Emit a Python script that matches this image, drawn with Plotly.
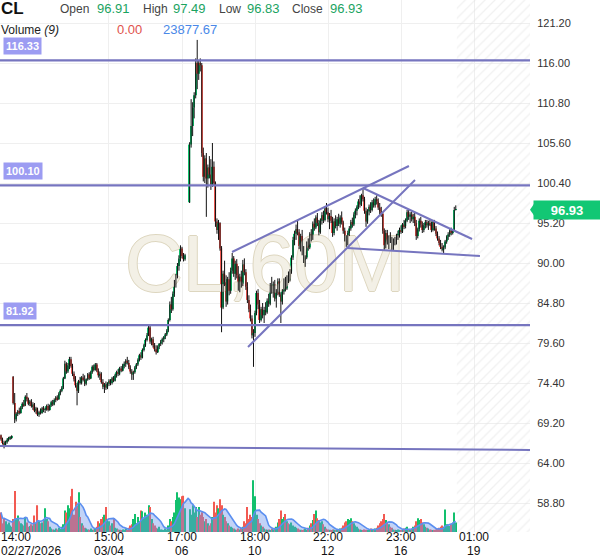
import plotly.graph_objects as go
import pandas as pd

# ---------------- data (60-minute bars, CL) ----------------
open_ = [
67.6, 67.1, 66.6, 66.3, 66.7, 67.0, 67.2, 67.3, 75.2, 71.8,
69.7, 70.4, 70.7, 70.5, 71.2, 71.7, 71.5, 72.6, 72.3, 71.7,
72.0, 71.4, 71.6, 70.8, 71.1, 70.3, 70.6, 70.5, 71.1, 70.9,
71.0, 71.4, 70.9, 71.5, 71.9, 71.6, 72.2, 72.5, 72.3, 73.0,
73.4, 73.8, 75.0, 76.9, 75.9, 76.7, 77.5, 76.6, 75.6, 74.9,
74.1, 73.4, 74.6, 74.4, 75.1, 74.8, 74.3, 74.9, 75.5, 75.0,
75.8, 76.5, 76.1, 76.8, 76.0, 75.4, 75.6, 74.5, 73.9, 74.2,
73.8, 74.3, 74.7, 74.4, 75.0, 74.7, 75.4, 75.8, 75.6, 76.3,
76.0, 76.7, 76.9, 77.3, 77.0, 76.4, 75.9, 75.5, 75.8, 76.4,
76.8, 77.4, 78.0, 77.7, 78.7, 79.3, 80.0, 80.6, 81.6, 79.8,
80.1, 79.3, 78.8, 78.4, 79.1, 79.5, 79.8, 80.1, 80.4, 80.7,
81.2, 82.6, 84.6, 84.0, 86.0, 87.4, 88.2, 89.6, 90.6, 91.9,
90.9, 90.5, None, None, 97.9, 105.4, 107.8, 110.2, 111.8, 116.0,
114.6, 116.0, 115.7, 104.3, 101.2, 103.6, 101.0, 102.4, 101.5, 100.2,
102.5, 100.4, 95.4, 94.3, 95.2, 91.9, 84.2, 88.6, 87.5, 85.0,
87.9, 86.4, 89.0, 90.6, 88.6, 89.9, 88.4, 86.9, 88.2, 87.3,
89.8, 88.8, 86.9, 85.2, 84.0, 82.8, 80.6, 80.9, 83.5, 86.1,
84.6, 82.6, 84.0, 83.2, 83.9, 83.6, 85.1, 84.7, 87.0, 86.4,
87.2, 85.4, 86.2, 87.6, 85.9, 85.0, 86.3, 87.7, 86.7, 88.1,
87.8, 88.9, 90.7, 93.0, 93.8, 94.4, 94.0, 92.2, 93.5, 91.4,
90.4, 90.7, 92.5, 92.0, 93.7, 93.2, 95.1, 94.6, 95.9, 95.2,
94.0, 95.5, 96.2, 95.6, 97.1, 96.6, 95.7, 96.1, 95.5, 93.9,
95.4, 94.8, 95.7, 95.1, 95.9, 95.3, 94.2, 93.2, 92.6, 93.9,
94.5, 95.3, 95.0, 96.3, 96.8, 97.3, 98.0, 97.6, 98.8, 98.3,
96.8, 95.4, 96.7, 97.3, 96.9, 97.9, 97.5, 98.3, 98.0, 97.2,
96.7, 96.4, 94.2, 92.3, 93.9, 92.8, 93.3, 93.0, 92.0, 92.9,
92.6, 93.5, 93.8, 94.3, 94.1, 95.0, 94.8, 95.5, 96.6, 96.0,
96.3, 95.7, 96.0, 95.2, 93.5, 94.4, 95.5, 95.0, 94.3, 94.9,
95.3, 94.9, 95.2, 95.0, 94.3, 95.4, 94.5, 93.8, 93.2, 92.6,
92.1, 91.8, 92.0, 92.8, 93.4, 93.7, 94.2, 93.9, 94.3, 96.91,
]
high = [
67.7, 67.3, 66.9, 66.9, 67.2, 67.4, 67.5, 67.6, 75.3, 73.1,
70.6, 70.9, 71.2, 71.4, 71.9, 72.2, 72.8, 73.1, 72.5, 72.2,
72.3, 71.9, 71.8, 71.3, 71.2, 70.8, 71.1, 71.3, 71.4, 71.2,
71.6, 71.7, 71.6, 72.1, 72.2, 72.4, 72.7, 72.8, 73.2, 73.6,
74.0, 75.2, 77.3, 77.1, 77.0, 77.8, 77.8, 76.9, 75.9, 75.3,
74.4, 74.8, 75.2, 75.3, 75.6, 75.4, 75.0, 75.7, 75.8, 76.0,
76.7, 76.8, 77.0, 77.0, 76.3, 75.9, 75.8, 74.9, 74.4, 74.6,
74.5, 74.9, 74.9, 75.2, 75.3, 75.6, 76.0, 76.2, 76.5, 76.6,
76.9, 77.2, 77.5, 77.8, 77.4, 76.7, 76.2, 76.0, 76.6, 77.0,
77.6, 78.2, 78.4, 78.9, 79.5, 80.2, 80.9, 81.9, 81.9, 80.3,
80.4, 79.6, 79.3, 79.3, 79.6, 80.0, 80.3, 80.5, 80.9, 81.4,
82.8, 85.0, 85.6, 86.3, 87.8, 88.6, 90.0, 91.0, 92.3, 92.1,
91.3, 91.2, None, None, 105.7, 111.3, 110.9, 112.2, 116.6, 119.0,
116.3, 116.6, 116.0, 105.0, 104.0, 104.3, 102.8, 103.9, 103.5, 105.6,
103.2, 100.6, 95.8, 95.6, 95.3, 92.2, 89.0, 90.3, 88.4, 88.2,
88.8, 89.4, 91.3, 90.9, 90.3, 90.5, 89.6, 88.6, 89.0, 90.4,
90.6, 89.2, 87.5, 85.8, 84.6, 83.2, 81.4, 83.8, 86.4, 86.6,
85.2, 84.3, 84.8, 84.3, 84.9, 85.4, 86.0, 87.4, 88.2, 87.6,
87.8, 86.6, 88.0, 88.0, 86.2, 86.6, 88.0, 88.2, 88.4, 88.9,
89.2, 91.0, 93.4, 94.2, 95.0, 95.6, 94.4, 93.8, 94.3, 92.2,
91.0, 92.8, 93.2, 94.0, 94.4, 95.4, 95.8, 96.2, 96.5, 95.6,
95.8, 96.6, 96.8, 97.4, 97.8, 97.2, 96.5, 96.9, 96.0, 95.8,
96.2, 96.0, 96.4, 96.2, 96.7, 95.5, 94.6, 93.6, 94.2, 94.8,
95.6, 95.9, 96.6, 97.1, 97.5, 98.3, 98.8, 99.0, 99.6, 98.6,
97.2, 97.0, 97.6, 97.9, 98.2, 98.4, 98.6, 98.8, 98.4, 97.8,
97.3, 96.6, 94.5, 94.3, 94.3, 93.6, 94.0, 93.4, 93.2, 93.4,
93.8, 94.2, 94.6, 94.9, 95.2, 95.6, 95.8, 96.9, 96.9, 96.6,
96.7, 96.4, 96.5, 95.6, 94.6, 95.8, 96.0, 95.4, 95.2, 95.6,
95.6, 95.5, 95.6, 95.4, 95.6, 95.6, 94.8, 94.1, 93.5, 93.0,
92.6, 92.3, 93.0, 93.6, 94.0, 94.4, 94.6, 94.4, 97.3, 97.49,
]
low = [
66.9, 66.4, 65.9, 66.1, 66.5, 66.8, 67.0, 67.1, 71.6, 69.2,
69.4, 70.1, 70.3, 70.4, 71.0, 71.3, 71.4, 72.0, 71.5, 71.4,
71.2, 70.9, 70.6, 70.4, 70.1, 70.0, 70.3, 70.4, 70.6, 70.5,
70.8, 70.7, 70.8, 71.3, 71.4, 71.5, 71.9, 72.1, 72.2, 72.8,
73.2, 73.6, 74.9, 75.6, 75.7, 76.2, 76.4, 75.3, 74.6, 73.8,
71.5, 73.1, 74.2, 74.2, 74.6, 74.0, 74.1, 74.7, 74.8, 74.9,
75.6, 75.9, 76.0, 75.8, 75.1, 74.8, 74.3, 73.6, 73.1, 73.5,
73.6, 74.0, 74.1, 74.2, 74.5, 74.6, 75.1, 75.3, 75.4, 75.8,
75.9, 76.3, 76.5, 76.8, 76.2, 75.6, 74.8, 74.8, 75.6, 76.2,
76.6, 77.2, 77.4, 77.6, 78.5, 79.1, 79.8, 80.5, 79.5, 79.3,
79.0, 78.5, 78.1, 78.3, 78.8, 79.2, 79.4, 79.7, 80.1, 80.5,
81.0, 82.4, 83.5, 83.8, 85.6, 86.8, 88.0, 89.0, 90.2, 90.6,
90.2, 90.3, None, None, 97.8, 105.0, 106.5, 108.8, 111.4, 112.6,
113.8, 114.9, 103.8, 100.6, 100.4, 96.0, 99.8, 101.0, 99.5, 99.9,
100.0, 94.7, 93.8, 93.0, 91.6, 81.0, 84.0, 87.0, 84.3, 84.6,
85.8, 86.0, 88.6, 88.2, 87.8, 88.0, 86.4, 86.2, 86.8, 87.0,
88.4, 86.5, 84.8, 83.6, 82.4, 80.2, 76.5, 80.4, 83.2, 84.0,
82.2, 82.4, 82.8, 82.2, 83.2, 83.4, 84.3, 84.5, 86.0, 85.5,
85.0, 84.2, 85.8, 85.6, 82.2, 84.6, 85.9, 86.3, 86.5, 87.4,
87.6, 88.6, 90.4, 92.3, 93.0, 93.6, 91.8, 91.5, 91.0, 90.0,
89.5, 90.5, 91.6, 91.8, 92.8, 93.0, 94.2, 94.4, 94.8, 93.6,
93.8, 95.0, 95.2, 95.4, 96.3, 95.3, 94.4, 95.2, 93.4, 93.6,
94.5, 94.2, 94.8, 94.6, 95.0, 93.8, 92.8, 92.1, 92.3, 93.5,
94.2, 94.6, 94.8, 95.8, 96.2, 97.0, 97.2, 97.4, 98.0, 96.4,
94.7, 95.1, 96.2, 96.5, 96.7, 97.2, 97.2, 97.6, 96.9, 96.3,
96.0, 93.8, 91.7, 91.9, 92.4, 91.8, 92.6, 91.7, 91.7, 92.3,
92.4, 93.0, 93.3, 93.8, 93.9, 94.4, 94.5, 95.3, 95.6, 95.2,
95.4, 95.2, 94.8, 93.0, 93.2, 94.1, 94.6, 93.9, 94.0, 94.5,
94.6, 94.3, 94.8, 94.0, 94.1, 94.2, 93.5, 92.9, 92.3, 91.8,
91.5, 91.3, 91.8, 92.5, 93.0, 93.4, 93.6, 93.7, 94.1, 96.83,
]
close = [
67.1, 66.6, 66.3, 66.7, 67.0, 67.2, 67.3, 67.4, 71.8, 69.7,
70.4, 70.7, 70.5, 71.2, 71.7, 71.5, 72.6, 72.3, 71.7, 72.0,
71.4, 71.6, 70.8, 71.1, 70.3, 70.6, 70.5, 71.1, 70.9, 71.0,
71.4, 70.9, 71.5, 71.9, 71.6, 72.2, 72.5, 72.3, 73.0, 73.4,
73.8, 75.0, 76.9, 75.9, 76.7, 77.5, 76.6, 75.6, 74.9, 74.1,
73.4, 74.6, 74.4, 75.1, 74.8, 74.3, 74.9, 75.5, 75.0, 75.8,
76.5, 76.1, 76.8, 76.0, 75.4, 75.6, 74.5, 73.9, 74.2, 73.8,
74.3, 74.7, 74.4, 75.0, 74.7, 75.4, 75.8, 75.6, 76.3, 76.0,
76.7, 76.9, 77.3, 77.0, 76.4, 75.9, 75.5, 75.8, 76.4, 76.8,
77.4, 78.0, 77.7, 78.7, 79.3, 80.0, 80.6, 81.6, 79.8, 80.1,
79.3, 78.8, 78.4, 79.1, 79.5, 79.8, 80.1, 80.4, 80.7, 81.2,
82.6, 84.6, 84.0, 86.0, 87.4, 88.2, 89.6, 90.6, 91.9, 90.9,
90.5, 91.0, None, None, 105.4, 107.8, 110.2, 111.8, 116.0, 114.6,
116.0, 115.7, 104.3, 101.2, 103.6, 101.0, 102.4, 101.5, 100.2, 102.5,
100.4, 95.4, 94.3, 95.2, 91.9, 84.2, 88.6, 87.5, 85.0, 87.9,
86.4, 89.0, 90.6, 88.6, 89.9, 88.4, 86.9, 88.2, 87.3, 89.8,
88.8, 86.9, 85.2, 84.0, 82.8, 80.6, 80.9, 83.5, 86.1, 84.6,
82.6, 84.0, 83.2, 83.9, 83.6, 85.1, 84.7, 87.0, 86.4, 87.2,
85.4, 86.2, 87.6, 85.9, 85.0, 86.3, 87.7, 86.7, 88.1, 87.8,
88.9, 90.7, 93.0, 93.8, 94.4, 94.0, 92.2, 93.5, 91.4, 90.4,
90.7, 92.5, 92.0, 93.7, 93.2, 95.1, 94.6, 95.9, 95.2, 94.0,
95.5, 96.2, 95.6, 97.1, 96.6, 95.7, 96.1, 95.5, 93.9, 95.4,
94.8, 95.7, 95.1, 95.9, 95.3, 94.2, 93.2, 92.6, 93.9, 94.5,
95.3, 95.0, 96.3, 96.8, 97.3, 98.0, 97.6, 98.8, 98.3, 96.8,
95.4, 96.7, 97.3, 96.9, 97.9, 97.5, 98.3, 98.0, 97.2, 96.7,
96.4, 94.2, 92.3, 93.9, 92.8, 93.3, 93.0, 92.0, 92.9, 92.6,
93.5, 93.8, 94.3, 94.1, 95.0, 94.8, 95.5, 96.6, 96.0, 96.3,
95.7, 96.0, 95.2, 93.5, 94.4, 95.5, 95.0, 94.3, 94.9, 95.3,
94.9, 95.2, 95.0, 94.3, 95.4, 94.5, 93.8, 93.2, 92.6, 92.1,
91.8, 92.0, 92.8, 93.4, 93.7, 94.2, 93.9, 94.3, 96.9, 96.93,
]
volume_k = [
45, 20, 30, 25, 18, 22, 15, 12, 30, 95,
30, 38, 25, 20, 18, 15, 35, 22, 12, 14,
18, 15, 38, 20, 62, 25, 20, 22, 30, 55,
30, 25, 12, 8, 6, 5, 8, 6, 10, 7,
12, 18, 50, 45, 62, 55, 83, 100, 40, 70,
60, 92, 35, 20, 15, 10, 8, 6, 5, 8,
5, 6, 8, 12, 25, 20, 30, 35, 40, 58,
30, 25, 15, 20, 32, 10, 8, 6, 5, 4,
6, 5, 8, 4, 10, 15, 18, 30, 42, 20,
35, 25, 50, 48, 30, 45, 40, 62, 58, 30,
20, 15, 10, 8, 12, 6, 5, 4, 8, 6,
15, 30, 25, 35, 45, 74, 92, 80, 76, 83,
84, 55, None, None, 53, 40, 62, 45, 58, 35,
58, 40, 46, 35, 25, 30, 20, 15, 20, 35,
70, 45, 62, 55, 76, 62, 40, 35, 25, 20,
15, 12, 10, 8, 6, 5, 8, 6, 10, 12,
25, 20, 58, 30, 40, 35, 120, 83, 40, 30,
20, 15, 12, 8, 6, 5, 6, 4, 8, 6,
10, 12, 22, 30, 50, 30, 35, 42, 25, 20,
18, 22, 15, 12, 10, 8, 6, 5, 4, 6,
8, 5, 10, 15, 20, 28, 42, 50, 32, 28,
22, 25, 18, 12, 8, 6, 5, 4, 6, 5,
4, 6, 5, 8, 10, 15, 22, 25, 30, 28,
32, 25, 20, 15, 12, 8, 6, 5, 4, 6,
5, 4, 6, 8, 5, 6, 8, 10, 15, 20,
25, 30, 42, 28, 22, 18, 12, 10, 6, 5,
4, 6, 5, 4, 6, 8, 10, 12, 6, 5,
8, 12, 15, 25, 32, 28, 30, 22, 18, 12,
10, 8, 6, 5, 4, 5, 6, 8, 10, 12,
15, 12, 52, 18, 15, 14, 18, 22, 45, 22,
]

x_tick_idx = [0, 71, 119, 167, 215, 263, 311]
x_tick_time = ["14:00", "15:00", "17:00", "18:00", "22:00", "23:00", "01:00"]
x_tick_date = ["02/27/2026", "03/04", "06", "10", "12", "16", "19"]
price_ticks = [58.8, 64.0, 69.2, 74.4, 79.6, 84.8, 90.0, 95.2,
               100.4, 105.6, 110.8, 116.0, 121.2]
price_tick_text = ["58.80", "64.00", "69.20", "74.40", "79.60", "84.80", "90.00",
                   "95.20", "100.40", "105.60", "110.80", "116.00", "121.20"]
level_prices = [116.33, 100.10, 81.92]
level_labels = ["116.33", "100.10", "81.92"]
# drawn trend lines: (bar index, price) endpoints
trend_lines = [
    ((151.9, 91.43), (268.2, 102.61)),
    ((162.4, 79.08), (272.2, 100.79)),
    ((238.0, 99.75), (309.7, 93.12)),
    ((227.5, 91.95), (314.9, 90.91)),
    ((-0.66, 66.21), (347.8, 65.69)),
]
header = dict(symbol="CL", open="96.91", high="97.49", low="96.83", close="96.93",
              vol_val="0.00", vol_ma="23877.67")
last_price = 96.93

# ---------------- styling ----------------
GREEN = "#12c06d"
RED = "#f25a52"
LINE = "#7675bf"
X_RANGE = [-0.66, 347.8]
Y_RANGE = [55.03, 124.19]
V_RANGE = [0, 1233]
FONT = "Liberation Sans, Arial, sans-serif"

n = len(close)
idx = list(range(n))

fig = go.Figure()

# future (hatched) zone
hx0 = n - 0.3
fig.add_trace(go.Scatter(
    x=[hx0, X_RANGE[1], X_RANGE[1], hx0, hx0],
    y=[Y_RANGE[0], Y_RANGE[0], Y_RANGE[1], Y_RANGE[1], Y_RANGE[0]],
    fill="toself", mode="lines", line=dict(width=0),
    fillcolor="rgba(0,0,0,0)",
    fillpattern=dict(shape="/", fgcolor="#e3e3e3", bgcolor="rgba(255,255,255,0)",
                     size=7, solidity=0.18),
    hoverinfo="skip"))

# watermark
fig.add_trace(go.Scatter(
    x=[(X_RANGE[0] + X_RANGE[1]) / 2],
    y=[Y_RANGE[0] + 0.49 * (Y_RANGE[1] - Y_RANGE[0])],
    mode="text", text=["CL,60M"],
    textfont=dict(family=FONT, size=80, color="#f3f0e6",
                  shadow="1px 0 0 #ddd6bf, -1px 0 0 #ddd6bf, 0 1px 0 #ddd6bf, 0 -1px 0 #ddd6bf"),
    hoverinfo="skip"))

# volume bars
vx, vy, vc = [], [], []
for i in idx:
    if volume_k[i] is None:
        continue
    vx.append(i)
    vy.append(volume_k[i])
    vc.append(GREEN if close[i] >= open_[i] else RED)
fig.add_trace(go.Bar(x=vx, y=vy, yaxis="y2", marker=dict(color=vc, line=dict(width=0)),
                     width=0.7, hoverinfo="skip"))

# volume MA(9)
vol_ma = pd.Series([v if v is not None else float("nan") for v in volume_k]).rolling(9, min_periods=1).mean()
fig.add_trace(go.Scatter(x=idx, y=vol_ma, yaxis="y2", mode="lines",
                         line=dict(color="#5b8ff0", width=1.6),
                         fill="tozeroy", fillcolor="rgba(110,150,235,0.42)",
                         hoverinfo="skip"))

# wicks
wx, wy = [], []
for i in idx:
    if high[i] is None:
        continue
    wx += [i, i, None]
    wy += [low[i], high[i], None]
fig.add_trace(go.Scatter(x=wx, y=wy, mode="lines", line=dict(color="#111111", width=1),
                         hoverinfo="skip"))

# bodies
bx, bb, bh, bc = [], [], [], []
for i in idx:
    if open_[i] is None:
        continue
    o, c = open_[i], close[i]
    bx.append(i)
    bb.append(min(o, c))
    bh.append(max(abs(c - o), 0.08))
    bc.append(GREEN if c >= o else RED)
fig.add_trace(go.Bar(x=bx, y=bh, base=bb, marker=dict(color=bc, line=dict(width=0)),
                     width=0.85, hoverinfo="skip"))

shapes = []
for p in level_prices:
    shapes.append(dict(type="line", xref="paper", yref="y", x0=0, x1=1, y0=p, y1=p,
                       line=dict(color=LINE, width=2.2)))
for (xa, ya), (xb, yb) in trend_lines:
    shapes.append(dict(type="line", xref="x", yref="y", x0=xa, y0=ya, x1=xb, y1=yb,
                       line=dict(color=LINE, width=2)))
# price tag pointer
shapes.append(dict(type="path", xref="paper", yref="y",
                   path=f"M 1.0,{last_price} L 1.008,{last_price + 0.8} L 1.008,{last_price - 0.8} Z",
                   fillcolor="#12c774", line=dict(width=0)))

ann = []
for p, t in zip(level_prices, level_labels):
    ann.append(dict(xref="paper", yref="y", x=0, y=p, xanchor="left", yanchor="middle",
                    xshift=3, yshift=14, text=f"<b>{t}</b>", showarrow=False,
                    font=dict(family=FONT, size=11, color="white"),
                    bgcolor="#9c9cf2", borderpad=2))

W, H = 530.0, 532.0
def hdr(px, py, text, color, size=12):
    ann.append(dict(xref="paper", yref="paper", x=px / W, y=1 - py / H,
                    xanchor="left", yanchor="middle", text=text, showarrow=False,
                    borderpad=0, font=dict(family=FONT, size=size, color=color)))

VAL = "#1aa35f"
hdr(0, 8, f"<b>{header['symbol']}</b>", "#111", 17)
hdr(59, 9, "Open", "#444")
hdr(96, 8, header["open"], VAL, 13)
hdr(142, 9, "High", "#444")
hdr(172, 8, header["high"], VAL, 13)
hdr(218, 9, "Low", "#444")
hdr(246, 8, header["low"], VAL, 13)
hdr(291, 9, "Close", "#444")
hdr(329, 8, header["close"], VAL, 13)
hdr(0, 30, "Volume <i>(9)</i>", "#222")
hdr(116, 29, header["vol_val"], "#e0524c", 13)
hdr(162, 29, header["vol_ma"], "#4a88e8", 13)

# last price tag
ann.append(dict(xref="paper", yref="y", x=1.0, y=last_price, xanchor="left", yanchor="middle",
                xshift=3, text=f"<b>{last_price:.2f}</b>", showarrow=False,
                font=dict(family=FONT, size=13, color="white"),
                bgcolor="#12c774", width=64, height=16, borderpad=1))

# time axis labels (two lines, tight spacing)
for k, (xi, t, d) in enumerate(zip(x_tick_idx, x_tick_time, x_tick_date)):
    anchor = "left" if k == 0 else "center"
    xpos = xi if k else X_RANGE[0]
    ann.append(dict(xref="x", yref="paper", x=xpos, y=0,
                    xanchor=anchor, yanchor="top", yshift=3, text=t, showarrow=False,
                    borderpad=0, font=dict(family=FONT, size=12, color="#111")))
    ann.append(dict(xref="x", yref="paper", x=xpos, y=0,
                    xanchor=anchor, yanchor="top", yshift=-11, text=d, showarrow=False,
                    borderpad=0, font=dict(family=FONT, size=12, color="#111")))

fig.update_layout(
    width=600, height=557,
    margin=dict(l=0, r=70, t=0, b=25),
    plot_bgcolor="white", paper_bgcolor="white",
    showlegend=False, barmode="overlay",
    font=dict(family=FONT, size=12, color="#222"),
    shapes=shapes, annotations=ann,
    xaxis=dict(range=X_RANGE, tickvals=x_tick_idx, showticklabels=False,
               showgrid=True, gridcolor="#efefef", gridwidth=1, zeroline=False,
               showline=False, ticks="", fixedrange=True),
    yaxis=dict(range=Y_RANGE, side="right", tickvals=price_ticks, ticktext=price_tick_text,
               showgrid=True, gridcolor="#efefef", zeroline=False, showline=False,
               ticks="outside", ticklen=4, tickcolor="rgba(0,0,0,0)",
               tickfont=dict(family=FONT, size=11, color="#333")),
    yaxis2=dict(range=V_RANGE, overlaying="y", visible=False, fixedrange=True),
)

fig.write_html("out.html",
               config={"displayModeBar": False},
               post_script="document.body.style.margin='0';document.body.style.overflow='hidden';")
